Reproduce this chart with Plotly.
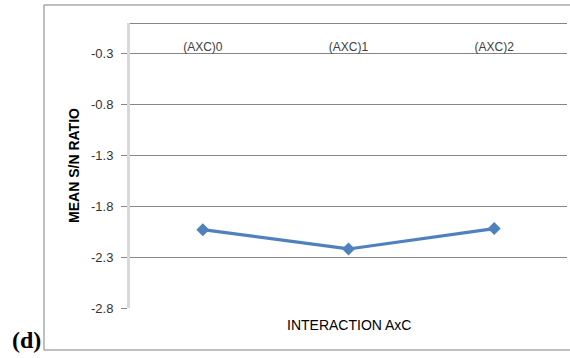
import plotly.graph_objects as go

# Mean S/N ratio for each level of the A x C interaction
levels = ["(AXC)0", "(AXC)1", "(AXC)2"]
mean_sn = [-2.03, -2.22, -2.02]

y_min, y_max = -2.8, 0.0
y_ticks = [-2.8, -2.3, -1.8, -1.3, -0.8, -0.3]
y_tick_text = [f"{v:.1f}" for v in y_ticks]  # plain hyphen minus
label_row = -0.3  # category labels sit on this gridline

grid_col = "#868686"
line_col = "#4F81BD"

fig = go.Figure(
    go.Scatter(
        x=levels,
        y=mean_sn,
        mode="lines+markers",
        line=dict(color=line_col, width=3.2),
        marker=dict(symbol="diamond", size=10, color=line_col),
        showlegend=False,
    )
)

fig.update_layout(
    width=570,
    height=358,
    margin=dict(l=130, r=3, t=23, b=50),
    paper_bgcolor="white",
    plot_bgcolor="white",
    font=dict(family="Liberation Sans", color="#404040"),
    xaxis=dict(
        type="category",
        range=[-0.5, len(levels) - 0.5],
        anchor="free",
        side="top",
        position=(label_row - y_min) / (y_max - y_min),
        showline=False,
        showgrid=False,
        ticks="",
        tickfont=dict(size=12, color="#404040"),
        ticklabelstandoff=0,
    ),
    yaxis=dict(
        range=[y_min, y_max],
        tickvals=y_ticks,
        ticktext=y_tick_text,
        showgrid=True,
        gridcolor=grid_col,
        gridwidth=1,
        zeroline=True,
        zerolinecolor=grid_col,
        zerolinewidth=1,
        showline=True,
        linecolor="#D9D9D9",
        linewidth=3,
        ticks="outside",
        ticklen=6,
        tickcolor=grid_col,
        tickfont=dict(size=13, color="#333333"),
        ticklabelstandoff=5,
        title=dict(
            text="<b>MEAN S/N RATIO</b>",
            font=dict(size=14, color="black"),
            standoff=9,
        ),
    ),
    shapes=[
        dict(
            type="rect",
            xref="paper",
            yref="paper",
            x0=-0.1968,
            x1=1.03,
            y0=-0.1474,
            y1=1.0632,
            line=dict(color="#808080", width=1),
            fillcolor="rgba(0,0,0,0)",
            layer="below",
        )
    ],
    annotations=[
        dict(
            text="INTERACTION AxC",
            xref="paper",
            yref="paper",
            x=0.5,
            y=-0.025,
            xanchor="center",
            yanchor="top",
            showarrow=False,
            font=dict(size=14, color="black"),
        ),
        dict(
            text="<b>(d)</b>",
            xref="paper",
            yref="paper",
            x=-0.236,
            y=-0.112,
            xanchor="center",
            yanchor="middle",
            showarrow=False,
            font=dict(family="Liberation Serif", size=24, color="black"),
        ),
    ],
)

fig.write_html("out.html")
